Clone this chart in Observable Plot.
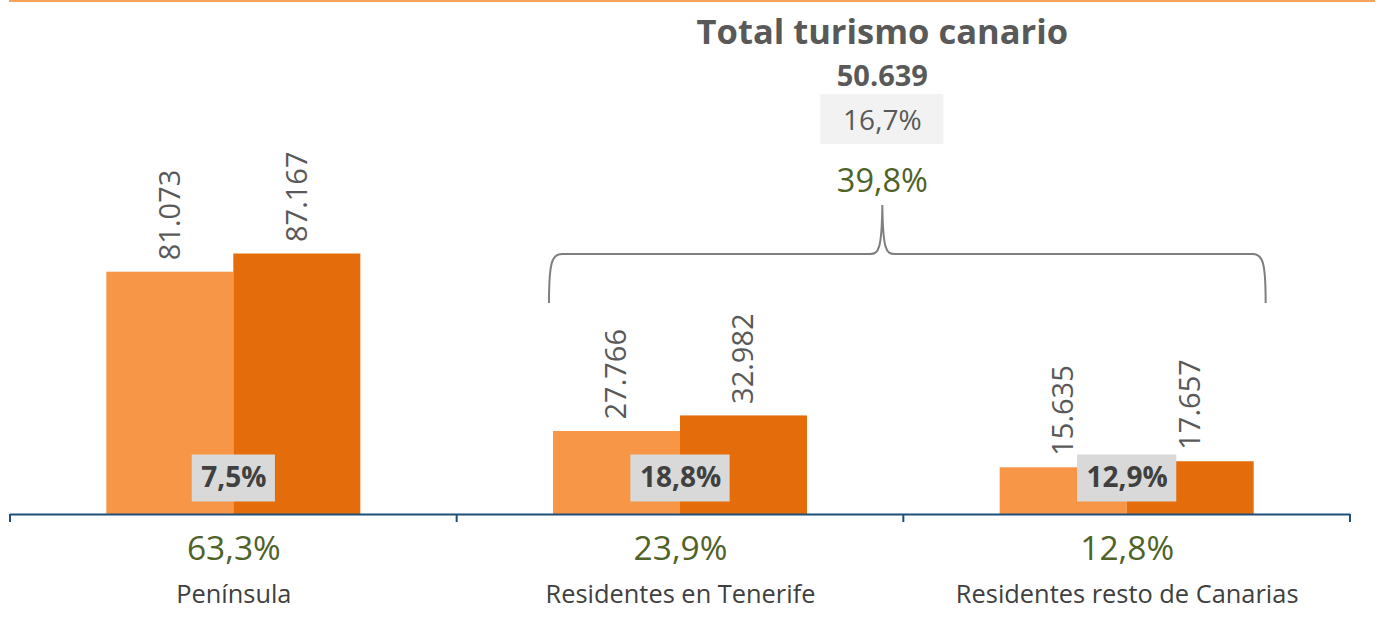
<!DOCTYPE html>
<html><head><meta charset="utf-8">
<script src="https://cdn.jsdelivr.net/npm/d3@7"></script>
<script src="https://cdn.jsdelivr.net/npm/@observablehq/plot@0.6"></script>
<style>html,body{margin:0;padding:0;background:#fff;} #chart{width:1383px;height:625px;}</style>
</head><body><div id="chart"></div>
<script>
// ---- data ----
const categories = ["Península", "Residentes en Tenerife", "Residentes resto de Canarias"];
const valuesPrev = [81073, 27766, 15635];
const valuesCurr = [87167, 32982, 17657];
const growthLabels = ["7,5%", "18,8%", "12,9%"];
const shareLabels = ["63,3%", "23,9%", "12,8%"];
const bracedCategories = ["Residentes en Tenerife", "Residentes resto de Canarias"];
const totalTitle = "Total turismo canario";
const totalValue = "50.639";
const totalGrowth = "16,7%";
const totalShare = "39,8%";

// ---- styling ----
const FONT = "'Open Sans', sans-serif";
const LIGHT = "#F79646", DARK = "#E46C0A", NAVY = "#1F4E79", GREEN = "#4F6228";
const GREY = "#595959", DARKGREY = "#404040";
const W = 1383, H = 625, ML = 10, MR = 33, MT = 0, MB = 111;
const bandW = (W - ML - MR) / categories.length;
const barW = 127;

const fmt = v => d3.format(",")(v).replace(/,/g, ".");
const rows = categories.map((c, i) => ({cat: c, prev: valuesPrev[i], curr: valuesCurr[i], growth: growthLabels[i], share: shareLabels[i]}));

const ctx = document.createElement("canvas").getContext("2d");
function textWidth(t, font) { ctx.font = font; return ctx.measureText(t).width; }

function decor(index, scales, values, dim) {
  const x = scales.x, y = scales.y;
  const bw = typeof x.bandwidth === "function" ? x.bandwidth() : bandW;
  const y0 = y(0);
  const g = d3.create("svg:g");
  // top orange rule
  g.append("line").attr("x1", 9).attr("x2", dim.width - 8).attr("y1", 1).attr("y2", 1)
    .attr("stroke", "#F7A35C").attr("stroke-width", 2);
  // boundary ticks of the category axis
  const edges = categories.map(c => x(c)).concat([x(categories[categories.length - 1]) + bw]);
  edges.forEach(e => g.append("line").attr("x1", e).attr("x2", e).attr("y1", y0).attr("y2", y0 + 8)
    .attr("stroke", NAVY).attr("stroke-width", 2));
  // grey boxes behind growth labels
  rows.forEach(r => {
    const cx = x(r.cat) + bw / 2;
    const w = textWidth(r.growth, `bold 28px ${FONT}`) + 18;
    g.append("rect").attr("x", cx - w / 2).attr("y", y0 - 36 - 23.5).attr("width", w).attr("height", 47)
      .attr("fill", "#D9D9D9");
  });
  // brace over the Canary groups
  const left = x(bracedCategories[0]) + bw / 2 - barW - 4;
  const right = x(bracedCategories[1]) + bw / 2 + barW + 12;
  const peak = x(bracedCategories[1]) - 21;
  const yb = 303, yh = 254, yp = 205;
  const p = `M${left},${yb} C${left},${yh + 8} ${left + 3},${yh} ${left + 13},${yh} L${peak - 12},${yh} C${peak - 4},${yh} ${peak - 0.5},${yh - 4} ${peak},${yp} C${peak + 0.5},${yh - 4} ${peak + 4},${yh} ${peak + 12},${yh} L${right - 13},${yh} C${right - 3},${yh} ${right},${yh + 8} ${right},${yb}`;
  g.append("path").attr("d", p).attr("fill", "none").attr("stroke", "#7F7F7F").attr("stroke-width", 2);
  // header annotation
  const t = (txt, yy, size, weight, fill) => g.append("text").attr("x", peak).attr("y", yy)
    .attr("text-anchor", "middle").attr("font-family", FONT).attr("font-size", size)
    .attr("font-weight", weight).attr("fill", fill).text(txt);
  t(totalTitle, 44, 34.5, "bold", GREY);
  t(totalValue, 86, 29, "bold", GREY);
  g.append("rect").attr("x", peak - 62).attr("y", 94).attr("width", 123).attr("height", 50).attr("fill", "#F2F2F2");
  t(totalGrowth, 130, 28, "normal", GREY);
  t(totalShare, 192, 32.5, "normal", GREEN);
  return g.node();
}

const chart = Plot.plot({
  width: W, height: H,
  marginLeft: ML, marginRight: MR, marginTop: MT, marginBottom: MB,
  style: {fontFamily: FONT, background: "white", overflow: "visible"},
  x: {domain: categories, padding: 0, round: false, axis: null},
  y: {domain: [0, 172000], axis: null},
  marks: [
    Plot.barY(rows, {x: "cat", y: "prev", fill: LIGHT, insetLeft: bandW / 2 - barW, insetRight: bandW / 2}),
    Plot.barY(rows, {x: "cat", y: "curr", fill: DARK, insetLeft: bandW / 2, insetRight: bandW / 2 - barW}),
    Plot.ruleY([0], {stroke: NAVY, strokeWidth: 2}),
    decor,
    Plot.text(rows, {x: "cat", y: "prev", text: d => fmt(d.prev), rotate: -90, textAnchor: "start",
      dx: -barW / 2, dy: -12, fontSize: 29, fill: GREY}),
    Plot.text(rows, {x: "cat", y: "curr", text: d => fmt(d.curr), rotate: -90, textAnchor: "start",
      dx: barW / 2, dy: -12, fontSize: 29, fill: GREY}),
    Plot.text(rows, {x: "cat", text: "growth", frameAnchor: "bottom", lineAnchor: "middle", dy: -36, fontSize: 28,
      fontWeight: "bold", fill: DARKGREY}),
    Plot.text(rows, {x: "cat", text: "share", frameAnchor: "bottom", lineAnchor: "middle", dy: 35, fontSize: 33.5, fill: GREEN}),
    Plot.text(rows, {x: "cat", text: "cat", frameAnchor: "bottom", lineAnchor: "middle", dy: 80, fontSize: 25.4, fill: DARKGREY})
  ]
});
document.getElementById("chart").appendChild(chart);
</script>
</body></html>
